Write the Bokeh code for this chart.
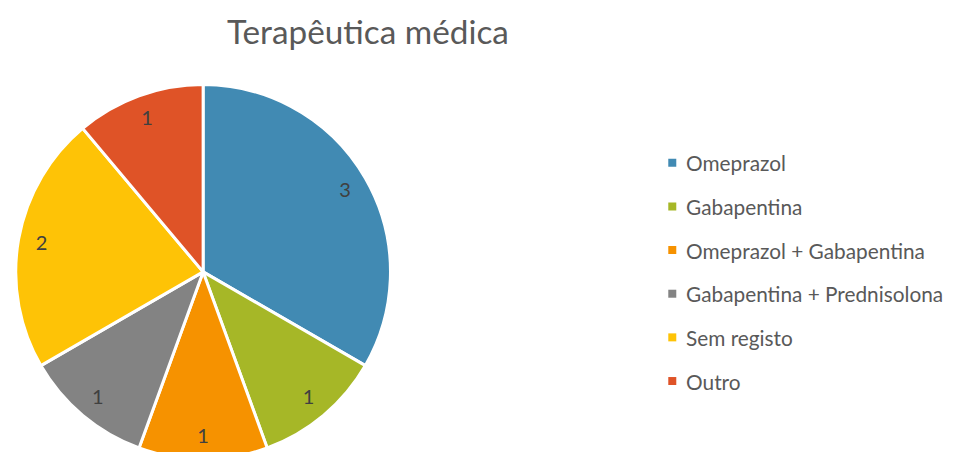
import math
from bokeh.plotting import figure
from bokeh.models import Range1d, ColumnDataSource
from bokeh.core.properties import value
from bokeh.embed import file_html
from bokeh.resources import INLINE

title = "Terapêutica médica"
categories = ["Omeprazol", "Gabapentina", "Omeprazol + Gabapentina",
              "Gabapentina + Prednisolona", "Sem registo", "Outro"]
counts = [3, 1, 1, 1, 2, 1]
colors = ["#418AB3", "#A6B727", "#F69200", "#838383", "#FEC306", "#DF5327"]

W, H = 958, 452
FONT = "Lato"
SX, SY = W / 974, H / 468   # reference layout scaled into the page

p = figure(width=W, height=H, output_backend="svg", toolbar_location=None,
           x_range=Range1d(0, W), y_range=Range1d(0, H), min_border=0)
p.axis.visible = False
p.grid.visible = False
p.outline_line_color = None

cx, cy, R = 206 * SX, H - 281 * SY, 194 * SY
total = sum(counts)
starts, ends, lx, ly, labels = [], [], [], [], []
cum = 0
for c in counts:
    a0 = math.pi / 2 - cum / total * 2 * math.pi
    a1 = math.pi / 2 - (cum + c) / total * 2 * math.pi
    starts.append(a0)
    ends.append(a1)
    mid = (a0 + a1) / 2
    lx.append(cx + 0.875 * R * math.cos(mid))
    ly.append(cy + 0.875 * R * math.sin(mid))
    labels.append(str(c))
    cum += c

src = ColumnDataSource(dict(start=starts, end=ends, color=colors, lx=lx, ly=ly,
                            label=labels, cat=categories))
p.wedge(x=cx, y=cy, radius=R, start_angle="start", end_angle="end",
        direction="clock", fill_color="color", line_color="white",
        line_width=3, source=src)
p.text(x="lx", y="ly", text="label", source=src, text_align="center",
       text_baseline="middle", text_font=value(FONT), text_font_size="20px",
       text_color="#404040")

# title
p.text(x=[373.5 * SX], y=[H - 32 * SY], text=[title], text_align="center",
       text_baseline="middle", text_font=value(FONT), text_font_size="33.3px",
       text_color="#595959")

# legend
leg_y = [H - (168 + i * 45.2) * SY for i in range(len(categories))]
leg = ColumnDataSource(dict(y=leg_y, cat=categories, color=colors))
p.rect(x=683 * SX, y="y", width=8, height=8, fill_color="color",
       line_color=None, source=leg)
p.text(x=697 * SX, y="y", text="cat", source=leg, text_align="left",
       text_baseline="middle", text_font=value(FONT), text_font_size="20.8px",
       text_color="#595959")

open("out.html", "w").write(file_html(p, INLINE))
